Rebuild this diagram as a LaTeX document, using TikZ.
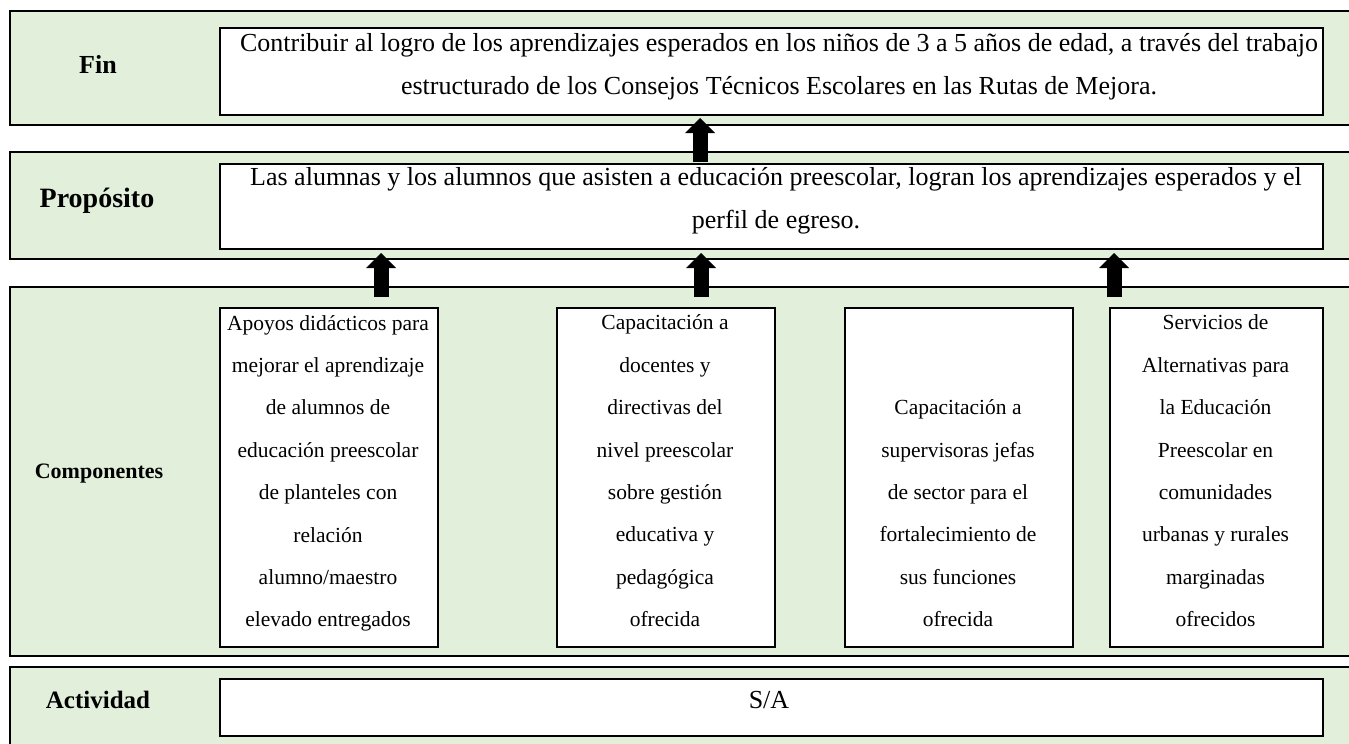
\documentclass[tikz,border=0pt]{standalone}
\usepackage{fontspec}
\setmainfont{Liberation Serif}
\usetikzlibrary{arrows.meta}
\definecolor{bandgreen}{HTML}{E2EFDA}
\begin{document}
\begin{tikzpicture}[x=1pt,y=-1pt,
  band/.style={fill=bandgreen,draw=none,inner sep=0pt,anchor=north west},
  bandline/.style={draw=black,line width=2pt},
  wbox/.style={fill=white,draw=black,line width=2pt,inner sep=0pt,anchor=north west},
  maintext/.style={font=\fontsize{26}{43}\selectfont,align=center,inner sep=0pt},
  comptext/.style={font=\fontsize{21.5}{42.4}\selectfont,align=center,inner sep=0pt},
  lbl/.style={font=\bfseries,inner sep=0pt,anchor=base},
  blockarrow/.style={line width=15pt,-{Triangle[length=15pt,width=30pt,line width=0pt]}}
]
\useasboundingbox (0,0) rectangle (1349,744);
% bands
\node[band,minimum width=1339pt,minimum height=114pt] (finband) at (10,11) {};
\node[band,minimum width=1339pt,minimum height=107pt] (propband) at (10,152) {};
\node[band,minimum width=1339pt,minimum height=369pt] (compband) at (10,287) {};
\node[band,minimum width=1339pt,minimum height=82pt] (actband) at (10,667) {};
\draw[bandline] (finband.north east) -- (finband.north west) -- (finband.south west) -- (finband.south east);
\draw[bandline] (propband.north east) -- (propband.north west) -- (propband.south west) -- (propband.south east);
\draw[bandline] (compband.north east) -- (compband.north west) -- (compband.south west) -- (compband.south east);
\draw[bandline] (actband.north east) -- (actband.north west) -- (actband.south west);
% white boxes
\node[wbox,minimum width=1103pt,minimum height=87pt] (finbox) at (219,27) {};
\node[wbox,minimum width=1103pt,minimum height=85pt] (propbox) at (219,163) {};
\node[wbox,minimum width=218pt,minimum height=339pt] (c1) at (219,307) {};
\node[wbox,minimum width=218pt,minimum height=339pt] (c2) at (556,307) {};
\node[wbox,minimum width=228pt,minimum height=339pt] (c3) at (844,307) {};
\node[wbox,minimum width=213pt,minimum height=339pt] (c4) at (1109,307) {};
\node[wbox,minimum width=1103pt,minimum height=57pt] (actbox) at (219,678) {};
% labels
\node[lbl,font=\fontsize{26}{30}\selectfont\bfseries] (lfin) at (98,73) {Fin};
\node[lbl,font=\fontsize{28}{32}\selectfont\bfseries] (lprop) at (97,207) {Propósito};
\node[lbl,font=\fontsize{22}{26}\selectfont\bfseries] (lcomp) at (99,478) {Componentes};
\node[lbl,font=\fontsize{25}{29}\selectfont\bfseries] (lact) at (98,708) {Actividad};
% texts
\node[maintext] (tfin) at (779,66.8) {Contribuir al logro de los aprendizajes esperados en los niños de 3 a 5 años de edad, a través del trabajo\\estructurado de los Consejos Técnicos Escolares en las Rutas de Mejora.};
\node[maintext] (tprop) at (776,200.7) {Las alumnas y los alumnos que asisten a educación preescolar, logran los aprendizajes esperados y el\\perfil de egreso.};
\node[comptext] (t1) at (328,473.3) {Apoyos didácticos para\\mejorar el aprendizaje\\de alumnos de\\educación preescolar\\de planteles con\\relación\\alumno/maestro\\elevado entregados};
\node[comptext] (t2) at (665,470.9) {Capacitación a\\docentes y\\directivas del\\nivel preescolar\\sobre gestión\\educativa y\\pedagógica\\ofrecida};
\node[comptext] (t3) at (958,513.3) {Capacitación a\\supervisoras jefas\\de sector para el\\fortalecimiento de\\sus funciones\\ofrecida};
\node[comptext] (t4) at (1215.5,470.9) {Servicios de\\Alternativas para\\la Educación\\Preescolar en\\comunidades\\urbanas y rurales\\marginadas\\ofrecidos};
\node[font=\fontsize{26}{30}\selectfont,inner sep=0pt,anchor=base] (tact) at (769,708) {S/A};
% arrows
\coordinate (a0s) at (700,162);
\coordinate (a0e) at (700,118);
\coordinate (a1s) at (381,297);
\coordinate (a1e) at (381,253);
\coordinate (a2s) at (701,297);
\coordinate (a2e) at (701,253);
\coordinate (a3s) at (1114,297);
\coordinate (a3e) at (1114,253);
\draw[blockarrow] (a0s) -- (a0e);
\draw[blockarrow] (a1s) -- (a1e);
\draw[blockarrow] (a2s) -- (a2e);
\draw[blockarrow] (a3s) -- (a3e);
\end{tikzpicture}
\end{document}
